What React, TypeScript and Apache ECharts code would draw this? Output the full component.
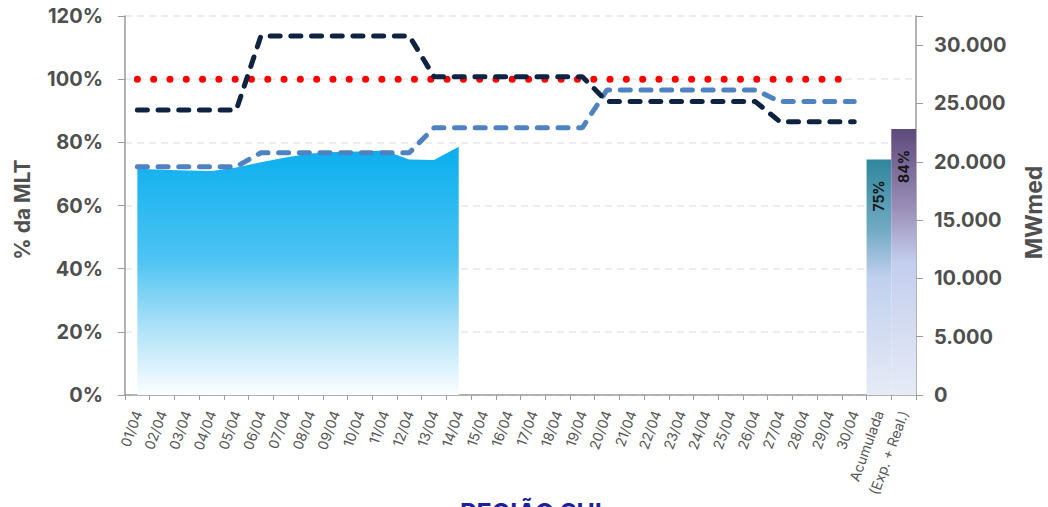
import React, { useEffect, useRef } from "react";
import * as echarts from "echarts";

const categories = [
  "01/04", "02/04", "03/04", "04/04", "05/04", "06/04", "07/04", "08/04", "09/04", "10/04",
  "11/04", "12/04", "13/04", "14/04", "15/04", "16/04", "17/04", "18/04", "19/04", "20/04",
  "21/04", "22/04", "23/04", "24/04", "25/04", "26/04", "27/04", "28/04", "29/04", "30/04",
  "Acumulada", "(Exp. + Real.)",
];

// % da MLT verificada (área)
const verified = [71.6, 71.3, 71.1, 70.9, 72.0, 73.7, 75.2, 76.5, 76.9, 77.1, 77.4, 74.6, 74.4, 78.6];
// Linha navy tracejada (%)
const darkLine = [
  90.2, 90.2, 90.2, 90.2, 90.2, 113.7, 113.7, 113.7, 113.7, 113.7, 113.7, 113.7,
  100.8, 100.8, 100.8, 100.8, 100.8, 100.8, 100.8,
  92.9, 92.9, 92.9, 92.9, 92.9, 92.9, 92.9,
  86.5, 86.5, 86.5, 86.5,
];
// Linha azul tracejada (%)
const blueLine = [
  72.3, 72.3, 72.3, 72.3, 72.3, 76.7, 76.7, 76.7, 76.7, 76.7, 76.7, 76.7,
  84.6, 84.6, 84.6, 84.6, 84.6, 84.6, 84.6,
  96.6, 96.6, 96.6, 96.6, 96.6, 96.6, 96.6,
  92.9, 92.9, 92.9, 92.9,
];
// MLT = 100%
const mltLine = new Array(30).fill(100);
// Barras acumuladas (MWmed)
const barValues = [20200, 22800];
const barLabels = ["75%", "84%"];

const leftTicksMax = 120;
const rightMax = 32500;

const fmtThousands = (v: number) =>
  String(Math.round(v)).replace(/\B(?=(\d{3})+(?!\d))/g, ".");

export default function App() {
  const ref = useRef<HTMLDivElement>(null);

  useEffect(() => {
    if (!ref.current) return;
    const chart = echarts.init(ref.current, undefined, { renderer: "svg" });
    const n = categories.length;
    const pad = (arr: (number | null)[]) => {
      const out: (number | null)[] = arr.slice();
      while (out.length < n) out.push(null);
      return out;
    };

    const tealGrad = new echarts.graphic.LinearGradient(0, 0, 0, 1, [
      { offset: 0, color: "#2e879c" },
      { offset: 0.3, color: "#72aac3" },
      { offset: 0.5, color: "#c0d0ee" },
      { offset: 1, color: "#e6ebf6" },
    ]);
    const purpleGrad = new echarts.graphic.LinearGradient(0, 0, 0, 1, [
      { offset: 0, color: "#5d4a7c" },
      { offset: 0.3, color: "#9b8fb8" },
      { offset: 0.5, color: "#c3ceee" },
      { offset: 1, color: "#e6ebf6" },
    ]);
    const barGrads = [tealGrad, purpleGrad];

    const barData: any[] = new Array(n - barValues.length).fill(null);
    barValues.forEach((v, i) => {
      barData.push({
        value: v,
        itemStyle: { color: barGrads[i] },
        label: { formatter: barLabels[i] },
      });
    });

    const axisLabelStyle = {
      color: "#4f4f4f",
      fontFamily: "Inter",
      fontWeight: "bold" as const,
      fontSize: 20,
    };

    chart.setOption({
      animation: false,
      backgroundColor: "#ffffff",
      grid: {
        left: 125,
        right: 132,
        top: 16,
        bottom: 112,
        containLabel: false,
        outerBoundsMode: "none",
      },
      title: {
        text: "REGIÃO SUL",
        left: 455,
        top: 495,
        textStyle: { color: "#1d1f9c", fontFamily: "Inter", fontWeight: "bold", fontSize: 25 },
      },
      xAxis: {
        type: "category",
        data: categories,
        boundaryGap: true,
        axisLine: { lineStyle: { color: "#9a9a9a", width: 1.5 } },
        axisTick: { show: true, length: 5, lineStyle: { color: "#9a9a9a" } },
        axisLabel: {
          interval: 0,
          rotate: 70,
          margin: 16,
          color: "#555555",
          fontFamily: "Inter",
          fontSize: 14,
        },
      },
      yAxis: [
        {
          type: "value",
          min: 0,
          max: leftTicksMax,
          interval: 20,
          name: "% da MLT",
          nameLocation: "middle",
          nameGap: 92,
          nameTextStyle: {
            color: "#4f4f4f",
            fontFamily: "Inter",
            fontWeight: "bold",
            fontSize: 21,
            padding: [0, 8, 0, 0],
          },
          axisLine: { show: true, lineStyle: { color: "#9a9a9a", width: 1.5 } },
          axisTick: { show: true, length: 7, lineStyle: { color: "#9a9a9a" } },
          axisLabel: { ...axisLabelStyle, margin: 22, formatter: "{value}%" },
          splitLine: { show: true, lineStyle: { color: "#e4e9ed", width: 1.5, type: [7, 5] } },
        },
        {
          type: "value",
          min: 0,
          max: rightMax,
          interval: 5000,
          name: "MWmed",
          nameLocation: "middle",
          nameGap: 106,
          nameRotate: 90,
          nameTextStyle: {
            color: "#4f4f4f",
            fontFamily: "Inter",
            fontWeight: "bold",
            fontSize: 23,
            padding: [0, 14, 0, 0],
          },
          axisLine: { show: true, lineStyle: { color: "#9a9a9a", width: 1.5 } },
          axisTick: { show: true, length: 7, lineStyle: { color: "#9a9a9a" } },
          axisLabel: {
            ...axisLabelStyle,
            margin: 18,
            formatter: (v: number) => (v % 5000 === 0 ? fmtThousands(v) : ""),
          },
          splitLine: { show: false },
        },
      ],
      series: [
        {
          name: "Verificada",
          type: "line",
          data: pad(verified),
          symbol: "none",
          lineStyle: { width: 0 },
          areaStyle: {
            opacity: 1,
            color: new echarts.graphic.LinearGradient(0, 0, 0, 1, [
              { offset: 0, color: "#0aaeef" },
              { offset: 0.45, color: "#4cc3f2" },
              { offset: 0.75, color: "#b4e4f9" },
              { offset: 1, color: "#fbfeff" },
            ]),
          },
          z: 1,
        },
        {
          name: "Acumulada",
          type: "bar",
          yAxisIndex: 1,
          data: barData,
          barWidth: "100%",
          barCategoryGap: "0%",
          label: {
            show: true,
            position: ["50%", 21],
            rotate: 90,
            align: "right",
            verticalAlign: "middle",
            color: "#151515",
            fontFamily: "Inter",
            fontWeight: "bold",
            fontSize: 14,
          },
          z: 2,
        },
        {
          name: "MLT",
          type: "line",
          data: pad(mltLine),
          symbol: "none",
          lineStyle: { color: "#ff0000", width: 7, type: [0, 16.3], cap: "round" },
          z: 3,
        },
        {
          name: "Azul",
          type: "line",
          data: pad(blueLine),
          symbol: "none",
          lineStyle: { color: "#4f82c0", width: 5, type: [10, 10.7], cap: "round" },
          z: 4,
        },
        {
          name: "Navy",
          type: "line",
          data: pad(darkLine),
          symbol: "none",
          lineStyle: { color: "#0e2341", width: 5, type: [10, 10.7], cap: "round" },
          z: 5,
        },
      ],
    });

    return () => chart.dispose();
  }, []);

  return (
    <div
      ref={ref}
      style={{ position: "fixed", left: 0, top: 0, width: 1048, height: 507 }}
    />
  );
}
